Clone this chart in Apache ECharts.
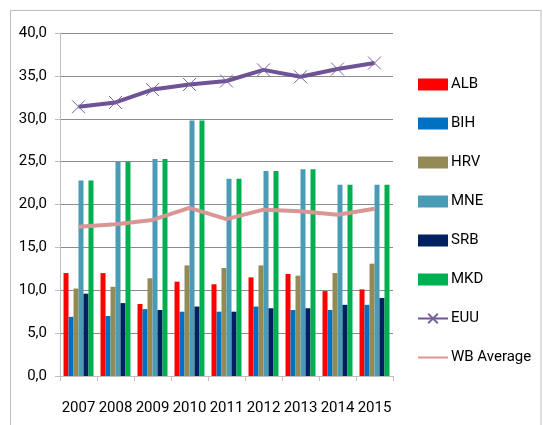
<!DOCTYPE html>
<html><head><meta charset="utf-8">
<script src="https://cdn.jsdelivr.net/npm/echarts@6/dist/echarts.min.js"></script>
<style>html,body{margin:0;padding:0;background:#fff}#c{width:543px;height:425px}</style>
</head><body><div id="c"></div>
<script>
var years = ['2007','2008','2009','2010','2011','2012','2013','2014','2015'];
var yTicks = [0,5,10,15,20,25,30,35,40];
var ALB = [12.0,12.0,8.4,11.0,10.7,11.5,11.9,9.9,10.1];
var BIH = [6.9,7.0,7.8,7.5,7.5,8.1,7.7,7.7,8.3];
var HRV = [10.2,10.4,11.4,12.9,12.6,12.9,11.7,12.0,13.1];
var MNE = [22.8,25.0,25.3,29.8,23.0,23.9,24.1,22.3,22.3];
var SRB = [9.6,8.5,7.7,8.1,7.5,7.9,7.9,8.3,9.1];
var MKD = [22.8,25.0,25.3,29.8,23.0,23.9,24.1,22.3,22.3];
var EUU = [31.4,31.9,33.4,34.0,34.4,35.7,34.9,35.8,36.5];
var WBAvg = [17.4,17.7,18.2,19.6,18.3,19.4,19.2,18.8,19.5];

var FONT = "Roboto, sans-serif";
var chart = echarts.init(document.getElementById('c'));
function bar(name, data, color){
  return {name:name, type:'bar', data:data, barGap:'0%', barCategoryGap:'19%',
    itemStyle:{color:color}, emphasis:{disabled:true}};
}
chart.setOption({
  animation:false,
  backgroundColor:'#fff',
  graphic:[{type:'rect', shape:{x:10.5,y:10.5,width:530.5,height:430},
    style:{fill:null, stroke:'#bdbdbd', lineWidth:1}, silent:true}],
  grid:{left:60, top:33, width:333, height:343, containLabel:false},
  legend:{orient:'vertical', left:417, top:77, padding:0, itemWidth:30, itemHeight:12, itemGap:24,
    textStyle:{fontFamily:FONT, fontSize:15, color:'#000', padding:[0,0,0,-2]},
    data:[
      {name:'ALB', icon:'rect'},{name:'BIH', icon:'rect'},{name:'HRV', icon:'rect'},
      {name:'MNE', icon:'rect'},{name:'SRB', icon:'rect'},{name:'MKD', icon:'rect'},
      {name:'EUU'},{name:'WB Average', itemStyle:{opacity:0}}]},
  xAxis:{type:'category', data:years, boundaryGap:true,
    axisLine:{lineStyle:{color:'#bfbfbf', width:1}},
    axisTick:{show:true, length:5, lineStyle:{color:'#bfbfbf'}},
    axisLabel:{fontFamily:FONT, fontSize:15, color:'#000', margin:25, interval:0}},
  yAxis:{type:'value', min:yTicks[0], max:yTicks[yTicks.length-1], interval:5,
    axisLine:{show:true, lineStyle:{color:'#bfbfbf', width:1}},
    axisTick:{show:true, length:5, lineStyle:{color:'#bfbfbf'}},
    splitLine:{lineStyle:{color:'#8c8c8c', width:1}},
    axisLabel:{fontFamily:FONT, fontSize:15, color:'#000', margin:13,
      formatter:function(v){return v.toFixed(1).replace('.',',');}}},
  series:[
    bar('ALB', ALB, '#ff0000'),
    bar('BIH', BIH, '#0070c0'),
    bar('HRV', HRV, '#948a54'),
    bar('MNE', MNE, '#4a9bb5'),
    bar('SRB', SRB, '#002060'),
    bar('MKD', MKD, '#00b050'),
    {name:'EUU', type:'line', data:EUU, symbol:'path://M0,0L10,10M10,0L0,10', symbolSize:13,
      showSymbol:true, lineStyle:{color:'#6e5494', width:4},
      itemStyle:{color:'#7b62a3', borderColor:'#7b62a3', borderWidth:1}, emphasis:{disabled:true}, z:5},
    {name:'WB Average', type:'line', data:WBAvg, symbol:'none', showSymbol:false,
      lineStyle:{color:'#d99694', width:4}, itemStyle:{color:'#d99694'}, emphasis:{disabled:true}, z:5}
  ]
});
</script></body></html>
